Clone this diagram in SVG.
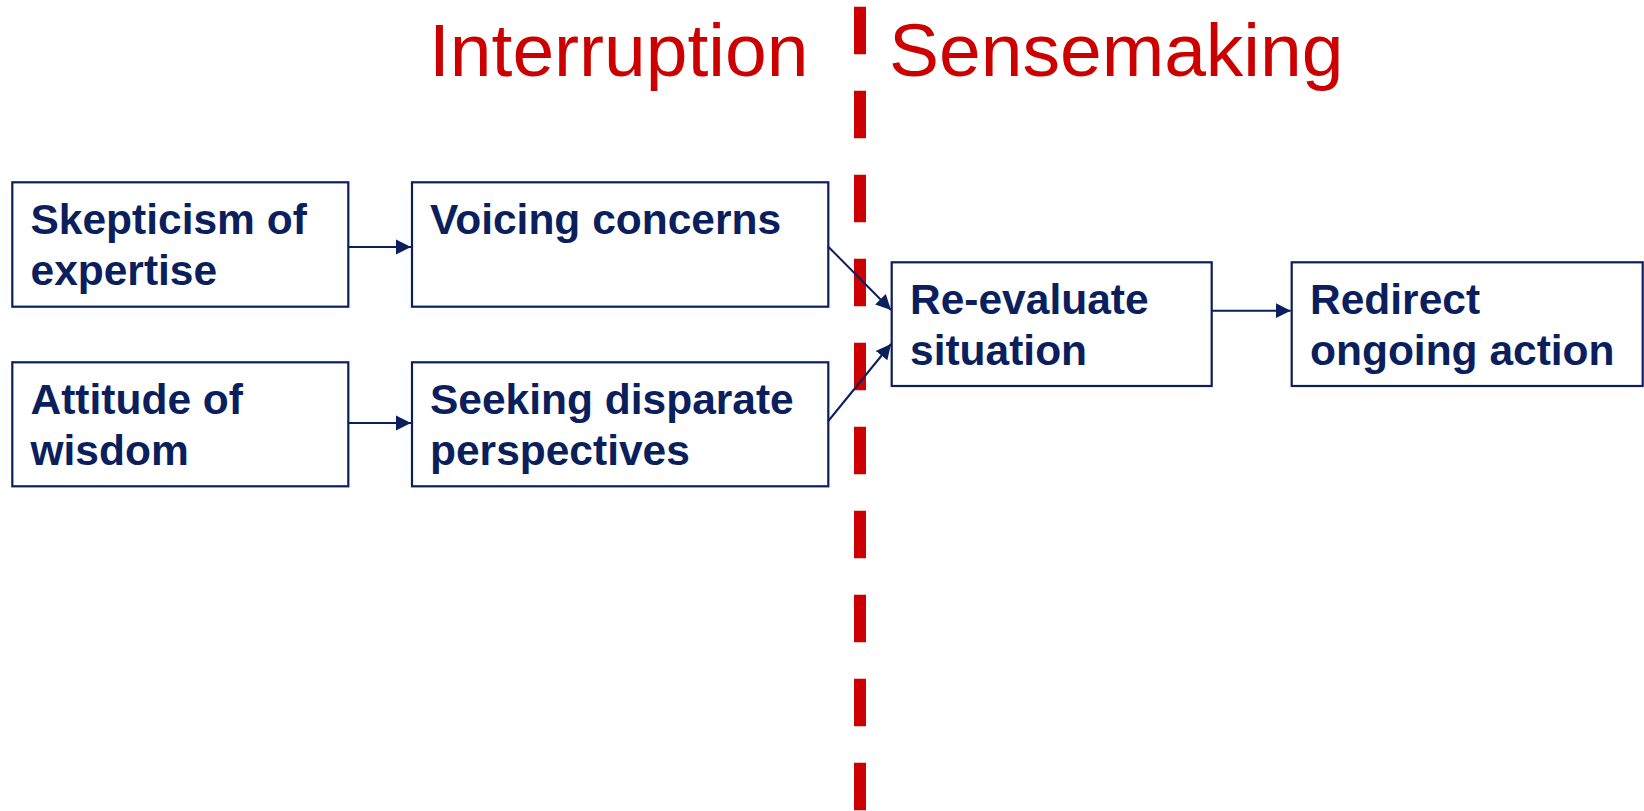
<svg xmlns="http://www.w3.org/2000/svg" width="1644" height="811" viewBox="0 0 1644 811">
<style>
.box{fill:#fff;stroke:#0B1F5C;stroke-width:2.2}
.lbl{font-family:"Liberation Sans",Arial,sans-serif;font-weight:bold;font-size:42.5px;fill:#0B1F5C}
.ttl{font-family:"Liberation Sans",Arial,sans-serif;font-size:75px;fill:#CC0000}
.con{stroke:#0B1F5C;stroke-width:2;fill:none}
</style>
<defs>
<marker id="ah" markerUnits="userSpaceOnUse" markerWidth="16" markerHeight="16" viewBox="0 0 16 16" refX="15" refY="8" orient="auto">
<path d="M0,0.5 L15,8 L0,15.5 Z" fill="#0B1F5C"/>
</marker>
</defs>
<rect width="1644" height="811" fill="#fff"/>
<g id="titles">
<text class="ttl" x="429" y="75.7">Interruption</text>
<text class="ttl" x="889" y="75.7">Sensemaking</text>
</g>
<line id="divider" x1="860" y1="6.7" x2="860" y2="811" stroke="#CC0000" stroke-width="12" stroke-dasharray="47.6 36.4"/>
<g id="n1"><rect class="box" x="12.3" y="182.3" width="336" height="124.4"/>
<text class="lbl" x="30.5" y="234.3">Skepticism of</text><text class="lbl" x="30.5" y="284.5">expertise</text></g>
<g id="n2"><rect class="box" x="412" y="182.3" width="416.3" height="124.4"/>
<text class="lbl" x="430" y="234.3">Voicing concerns</text></g>
<g id="n3"><rect class="box" x="12.3" y="362.3" width="336" height="124"/>
<text class="lbl" x="30.5" y="414.3">Attitude of</text><text class="lbl" x="30.5" y="464.5">wisdom</text></g>
<g id="n4"><rect class="box" x="412" y="362.3" width="416.3" height="124"/>
<text class="lbl" x="430" y="414.3">Seeking disparate</text><text class="lbl" x="430" y="464.5">perspectives</text></g>
<g id="n5"><rect class="box" x="891.7" y="262.3" width="320" height="123.7"/>
<text class="lbl" x="910" y="314.3">Re-evaluate</text><text class="lbl" x="910" y="364.5">situation</text></g>
<g id="n6"><rect class="box" x="1291.7" y="262.3" width="351" height="123.7"/>
<text class="lbl" x="1310" y="314.3">Redirect</text><text class="lbl" x="1310" y="364.5">ongoing action</text></g>
<g id="connectors">
<line class="con" x1="348.3" y1="247" x2="411" y2="247" marker-end="url(#ah)"/>
<line class="con" x1="348.3" y1="423" x2="411" y2="423" marker-end="url(#ah)"/>
<line class="con" x1="828.3" y1="246.7" x2="891" y2="310" marker-end="url(#ah)"/>
<line class="con" x1="828.3" y1="421" x2="891" y2="344" marker-end="url(#ah)"/>
<line class="con" x1="1211.7" y1="310.7" x2="1290.7" y2="310.7" marker-end="url(#ah)"/>
</g>
</svg>
